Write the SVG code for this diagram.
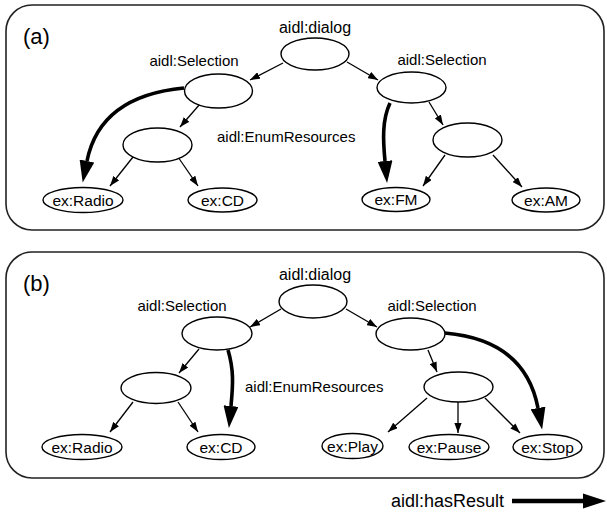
<svg xmlns="http://www.w3.org/2000/svg" width="607" height="515" viewBox="0 0 607 515">
  <style>
    .panel { fill: #fff; stroke: #222; stroke-width: 1.6; }
    .node { fill: #fff; stroke: #000; stroke-width: 1.4; }
    .edge { fill: none; stroke: #000; stroke-width: 1.3; }
    .result { fill: none; stroke: #000; stroke-width: 3.6; }
    text { font-family: "Liberation Sans", Arial, sans-serif; fill: #000; }
    .lbl { font-size: 15px; }
    .dlg { font-size: 16px; text-anchor: middle; }
    .sel { font-size: 15px; text-anchor: middle; }
    .leaf { font-size: 15.5px; text-anchor: middle; }
    .tag { font-size: 22px; }
  </style>
  <defs>
    <marker id="arrow" viewBox="0 -3.6 10 7.2" refX="10" refY="0" markerWidth="10" markerHeight="7.2" markerUnits="userSpaceOnUse" orient="auto">
      <path d="M0,-3.6 L10,0 L0,3.6 z" fill="#000"/>
    </marker>
    <marker id="bigArrow" viewBox="0 -7.5 22 15" refX="0" refY="0" markerWidth="22" markerHeight="15" markerUnits="userSpaceOnUse" orient="auto">
      <path d="M0,-7.5 L22,0 L0,7.5 z" fill="#000"/>
    </marker>
  </defs>

  <!-- panel (a) -->
  <rect class="panel" x="6" y="5" width="598" height="225" rx="26" ry="26"/>
  <text class="tag" x="23" y="44">(a)</text>

  <!-- panel (b) -->
  <rect class="panel" x="6" y="252" width="598" height="226" rx="26" ry="26"/>
  <text class="tag" x="23" y="291">(b)</text>

  <g id="edges">
    <!-- (a) -->
    <path class="edge" d="M283,63 L250,80" marker-end="url(#arrow)"/>
    <path class="edge" d="M347,62 L378,80" marker-end="url(#arrow)"/>
    <path class="edge" d="M200,104 L180,127" marker-end="url(#arrow)"/>
    <path class="edge" d="M429,102 L443,125" marker-end="url(#arrow)"/>
    <path class="edge" d="M133,157 L110,186" marker-end="url(#arrow)"/>
    <path class="edge" d="M178,157 L198,186" marker-end="url(#arrow)"/>
    <path class="edge" d="M445,155 L423,186" marker-end="url(#arrow)"/>
    <path class="edge" d="M493,155 L522,187" marker-end="url(#arrow)"/>
    <path class="result" d="M184,88 Q100,96 87,161" marker-end="url(#bigArrow)"/>
    <path class="result" d="M390,103 C382,120 383,140 385,161" marker-end="url(#bigArrow)"/>

    <!-- (b) -->
    <path class="edge" d="M281,309 L250,327" marker-end="url(#arrow)"/>
    <path class="edge" d="M346,309 L377,327" marker-end="url(#arrow)"/>
    <path class="edge" d="M199,349 L179,373" marker-end="url(#arrow)"/>
    <path class="edge" d="M428,350 L437,372" marker-end="url(#arrow)"/>
    <path class="edge" d="M133,402 L110,432" marker-end="url(#arrow)"/>
    <path class="edge" d="M178,402 L198,432" marker-end="url(#arrow)"/>
    <path class="edge" d="M427,398 L388,432" marker-end="url(#arrow)"/>
    <path class="edge" d="M458,402 L458,433" marker-end="url(#arrow)"/>
    <path class="edge" d="M485,398 L520,433" marker-end="url(#arrow)"/>
    <path class="result" d="M228,350 C234,370 233,385 231,406" marker-end="url(#bigArrow)"/>
    <path class="result" d="M445,333 Q525,340 538,408" marker-end="url(#bigArrow)"/>
  </g>

  <!-- (a) nodes -->
  <g id="a-dialog">
    <ellipse class="node" cx="315" cy="54" rx="34" ry="16"/>
    <text class="dlg" x="315" y="33">aidl:dialog</text>
  </g>
  <g id="a-selection-1">
    <ellipse class="node" cx="218.5" cy="91" rx="34" ry="17"/>
    <text class="sel" x="194" y="66">aidl:Selection</text>
  </g>
  <g id="a-selection-2">
    <ellipse class="node" cx="411.5" cy="87.5" rx="34.5" ry="15.5"/>
    <text class="sel" x="442" y="65">aidl:Selection</text>
  </g>
  <g id="a-enum-1">
    <ellipse class="node" cx="157.5" cy="145" rx="34.5" ry="17"/>
  </g>
  <g id="a-enum-2">
    <ellipse class="node" cx="467.5" cy="140" rx="34.5" ry="17"/>
  </g>
  <g id="a-enum-label">
    <text class="lbl" x="217" y="142">aidl:EnumResources</text>
  </g>
  <g id="a-radio">
    <ellipse class="node" cx="83" cy="200" rx="40" ry="12.5"/>
    <text class="leaf" x="83" y="205.5">ex:Radio</text>
  </g>
  <g id="a-cd">
    <ellipse class="node" cx="222.5" cy="200" rx="34.5" ry="12"/>
    <text class="leaf" x="222.5" y="205.5">ex:CD</text>
  </g>
  <g id="a-fm">
    <ellipse class="node" cx="396" cy="199.5" rx="34" ry="12"/>
    <text class="leaf" x="396" y="205">ex:FM</text>
  </g>
  <g id="a-am">
    <ellipse class="node" cx="546" cy="200" rx="34" ry="12"/>
    <text class="leaf" x="546" y="205.5">ex:AM</text>
  </g>

  <!-- (b) nodes -->
  <g id="b-dialog">
    <ellipse class="node" cx="313" cy="301.5" rx="34" ry="16.5"/>
    <text class="dlg" x="315" y="280">aidl:dialog</text>
  </g>
  <g id="b-selection-1">
    <ellipse class="node" cx="217" cy="333.5" rx="35" ry="16.5"/>
    <text class="sel" x="182" y="311">aidl:Selection</text>
  </g>
  <g id="b-selection-2">
    <ellipse class="node" cx="410.5" cy="334" rx="34.5" ry="16"/>
    <text class="sel" x="432" y="311">aidl:Selection</text>
  </g>
  <g id="b-enum-1">
    <ellipse class="node" cx="156" cy="388" rx="35" ry="15.5"/>
  </g>
  <g id="b-enum-2">
    <ellipse class="node" cx="458.5" cy="387" rx="34.5" ry="15"/>
  </g>
  <g id="b-enum-label">
    <text class="lbl" x="245" y="392">aidl:EnumResources</text>
  </g>
  <g id="b-radio">
    <ellipse class="node" cx="82" cy="447" rx="40" ry="12.5"/>
    <text class="leaf" x="82" y="452.5">ex:Radio</text>
  </g>
  <g id="b-cd">
    <ellipse class="node" cx="221" cy="447" rx="34" ry="12.5"/>
    <text class="leaf" x="221" y="452.5">ex:CD</text>
  </g>
  <g id="b-play">
    <ellipse class="node" cx="352.5" cy="446" rx="30.5" ry="12.5"/>
    <text class="leaf" x="352.5" y="451.5">ex:Play</text>
  </g>
  <g id="b-pause">
    <ellipse class="node" cx="449" cy="447" rx="40" ry="12.5"/>
    <text class="leaf" x="449" y="452.5">ex:Pause</text>
  </g>
  <g id="b-stop">
    <ellipse class="node" cx="547.5" cy="447" rx="34.5" ry="12.5"/>
    <text class="leaf" x="547.5" y="452.5">ex:Stop</text>
  </g>

  <!-- key -->
  <g id="legend">
    <text x="391" y="507" style="font-size:18px">aidl:hasResult</text>
    <path d="M512,501 L584,501" stroke="#000" stroke-width="4.5" fill="none"/>
    <path d="M583,493.5 L606,501 L583,508.5 z" fill="#000"/>
  </g>
</svg>
